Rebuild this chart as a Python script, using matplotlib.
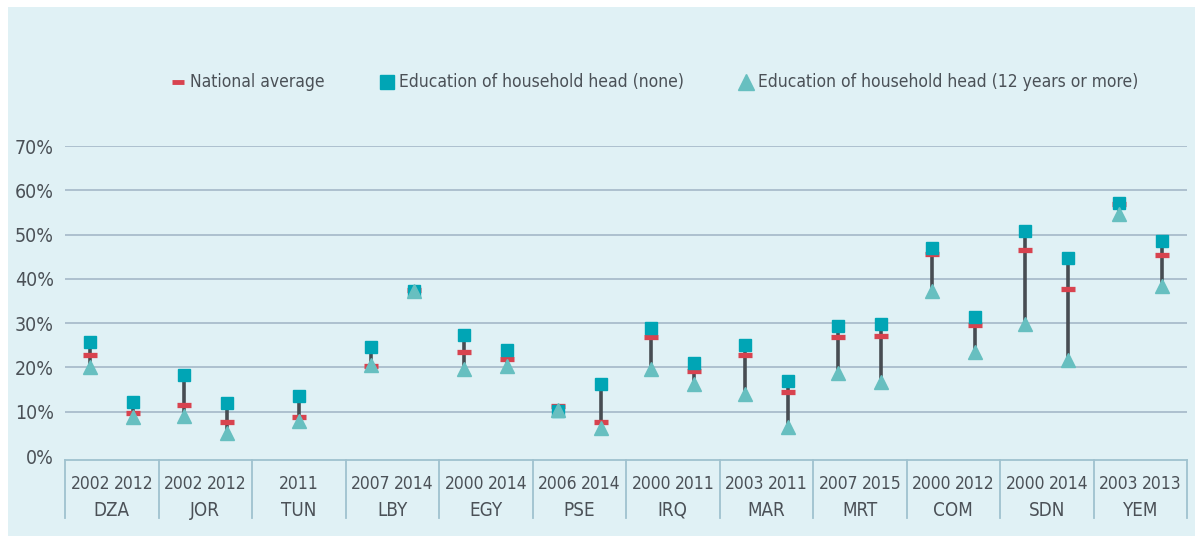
import numpy as np
import matplotlib
matplotlib.use('Agg')
from matplotlib import pyplot as plt
from matplotlib import font_manager
from matplotlib.lines import Line2D
from matplotlib.patches import Rectangle
import matplotlib.transforms as mtransforms

# Data (percentages)
groups = ['DZA', 'JOR', 'TUN', 'LBY', 'EGY', 'PSE', 'IRQ', 'MAR', 'MRT', 'COM', 'SDN', 'YEM']
country = ['DZA', 'DZA', 'JOR', 'JOR', 'TUN', 'LBY', 'LBY', 'EGY', 'EGY', 'PSE', 'PSE',
           'IRQ', 'IRQ', 'MAR', 'MAR', 'MRT', 'MRT', 'COM', 'COM', 'SDN', 'SDN', 'YEM', 'YEM']
year = ['2002', '2012', '2002', '2012', '2011', '2007', '2014', '2000', '2014', '2006', '2014',
        '2000', '2011', '2003', '2011', '2007', '2015', '2000', '2012', '2000', '2014', '2003', '2013']
national = [22.8, 9.6, 11.6, 7.6, 8.7, 20.4, 37.4, 23.5, 21.8, 11.3, 7.6,
            26.9, 19.2, 22.8, 14.4, 26.9, 27.2, 45.7, 29.6, 46.5, 37.7, 56.9, 45.4]
edu_none = [25.7, 12.2, 18.2, 11.9, 13.5, 24.7, 37.2, 27.4, 24.0, 10.2, 16.3,
            29.0, 21.0, 25.0, 16.9, 29.4, 29.8, 46.9, 31.5, 50.7, 44.6, 57.1, 48.6]
edu_12plus = [20.0, 8.9, 9.1, 5.1, 7.8, 20.6, 37.2, 19.7, 20.4, 10.4, 6.3,
              19.7, 16.3, 13.9, 6.5, 18.7, 16.6, 37.2, 23.4, 29.8, 21.7, 54.6, 38.3]
legend_labels = ['National average', 'Education of household head (none)',
                 'Education of household head (12 years or more)']
y_ticks = [0, 10, 20, 30, 40, 50, 60, 70]

TEXT = '#4b5157'
RED = '#d8434f'
TEAL = '#00a5b5'
LTEAL = '#67bfc0'
STEM = '#474c52'
GRID = '#a9bccb'
AXIS = '#9fc2cf'
PANEL = '#e0f1f5'


def find_narrow_font():
    # look for any condensed / narrow regular face, otherwise Liberation Sans
    for f in font_manager.fontManager.ttflist:
        nm = f.name.lower()
        if ('narrow' in nm or 'condensed' in nm or f.stretch in ('condensed', 'semi-condensed',
                                                                  'extra-condensed')) \
                and f.style == 'normal' and f.weight in (400, 'normal', 'regular', 'book'):
            return f.fname, True
    path = font_manager.findfont(font_manager.FontProperties(family='Liberation Sans'))
    return path, False


font_path, narrow = find_narrow_font()


def fp(size):
    p = font_manager.FontProperties(fname=font_path)
    p.set_size(size)
    return p


tick_fs = 14 if narrow else 13
year_fs = 12.5 if narrow else 12
cty_fs = 13.5 if narrow else 12
leg_fs = 12.5 if narrow else 12

# x position of each survey inside its country slot
x = []
for i, g in enumerate(groups):
    n = country.count(g)
    offs = [0.5] if n == 1 else [0.27, 0.73]
    x += [i + o for o in offs]
x = np.array(x)

fig = plt.figure(figsize=(11.95, 5.43), dpi=100, facecolor='white')
fig.patches.append(Rectangle((8 / 1195, 7 / 543), 1 - 8 / 1195, 1 - 14 / 543,
                             transform=fig.transFigure, facecolor=PANEL,
                             edgecolor='none', zorder=-10))

ax = fig.add_axes([65 / 1195, 83 / 543, 1122 / 1195, 314 / 543])
ax.set_facecolor('none')

# stems from low to high
for xi, a, b in zip(x, edu_none, edu_12plus):
    ax.plot([xi, xi], [min(a, b), max(a, b)], color=STEM, lw=2.6, zorder=2,
            solid_capstyle='butt')
ax.plot(x, national, ls='none', marker='_', ms=10, mew=3.8, color=RED, zorder=3)
ax.plot(x, edu_none, ls='none', marker='s', ms=9, color=TEAL, mec=TEAL, zorder=4)
ax.plot(x, edu_12plus, ls='none', marker='^', ms=10.5, color=LTEAL, mec=LTEAL, zorder=5)

ax.set_xlim(0, len(groups))
ax.set_ylim(-0.9, 70)
ax.set_yticks(y_ticks)
ax.set_yticklabels([f'{v}%' for v in y_ticks], fontproperties=fp(tick_fs), color=TEXT)
ax.tick_params(axis='y', length=0, pad=8)
ax.set_xticks([])
for v in y_ticks[1:]:
    ax.axhline(v, color=GRID, lw=1.3, zorder=1)
for s in ['top', 'right', 'left']:
    ax.spines[s].set_visible(False)
ax.spines['bottom'].set_color(AXIS)
ax.spines['bottom'].set_linewidth(1.3)

# category axis: separators, year labels, country labels
trans = mtransforms.blended_transform_factory(ax.transData, ax.transAxes)
for i in range(len(groups) + 1):
    ax.plot([i, i], [0, -0.185], color=AXIS, lw=1.3, transform=trans, clip_on=False)
for xi, yr in zip(x, year):
    ax.text(xi, -0.075, yr, transform=trans, ha='center', va='center',
            fontproperties=fp(year_fs), color=TEXT)
for i, g in enumerate(groups):
    ax.text(i + 0.5, -0.16, g, transform=trans, ha='center', va='center',
            fontproperties=fp(cty_fs), color=TEXT)

# legend, laid out left to right from the first key
ly = 1 - 82 / 543
handles = [dict(marker='_', ms=9, mew=3.5, color=RED),
           dict(marker='s', ms=10, color=TEAL),
           dict(marker='^', ms=11, color=LTEAL)]
renderer = fig.canvas.get_renderer()
kx = 178
for h, lab in zip(handles, legend_labels):
    fig.add_artist(Line2D([kx / 1195], [ly], transform=fig.transFigure, **h))
    t = fig.text((kx + 12) / 1195, ly, lab, ha='left', va='center',
                 fontproperties=fp(leg_fs), color=TEXT)
    ext = t.get_window_extent(renderer)
    kx = ext.x1 + 62

fig.savefig('out.png', dpi=100, facecolor='white')
